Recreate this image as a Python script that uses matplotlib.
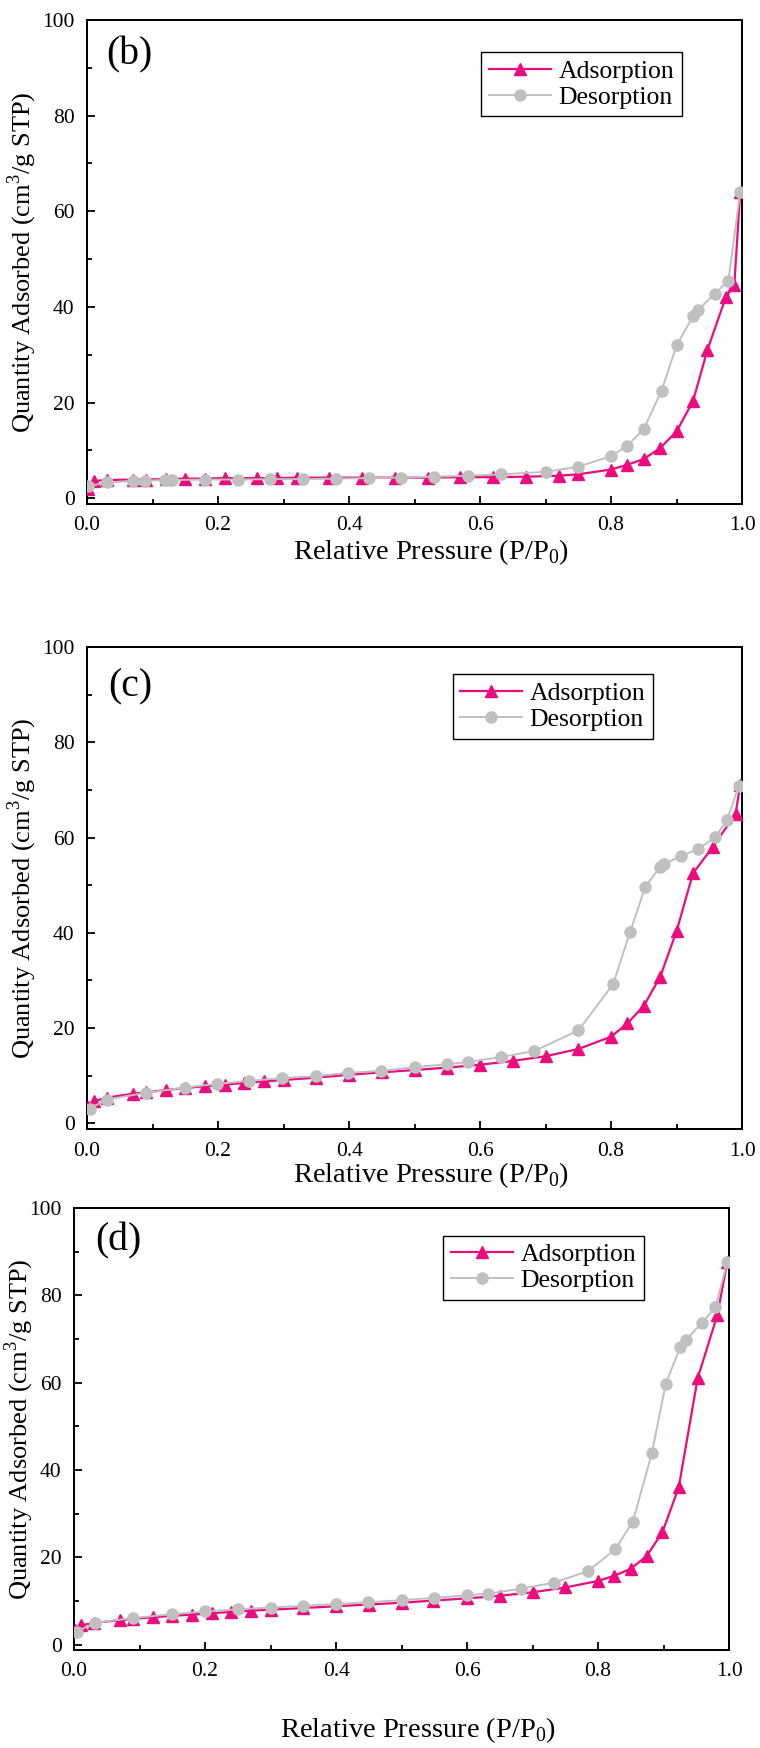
import numpy as np
import matplotlib.pyplot as plt
from matplotlib.ticker import MultipleLocator

plt.rcParams['font.family'] = ['Liberation Serif', 'DejaVu Serif']
plt.rcParams['mathtext.fontset'] = 'custom'
plt.rcParams['mathtext.rm'] = 'Liberation Serif'

# ---------------------------------------------------------------- dados
# painel (b)
ads_b_x = [0.002, 0.01, 0.03, 0.07, 0.09, 0.12, 0.15, 0.18, 0.21, 0.26, 0.29, 0.32, 0.37, 0.42,
           0.47, 0.52, 0.57, 0.62, 0.67, 0.72, 0.75, 0.80, 0.825, 0.85, 0.875, 0.90, 0.925,
           0.947, 0.975, 0.988, 0.997]
ads_b_y = [2.0, 3.6, 3.8, 3.9, 3.9, 4.0, 4.1, 4.1, 4.2, 4.2, 4.2, 4.3, 4.3, 4.3,
           4.3, 4.3, 4.4, 4.4, 4.5, 4.7, 5.0, 6.0, 7.0, 8.2, 10.5, 14.0, 20.3,
           31.0, 42.0, 44.5, 64.0]
des_b_x = [0.997, 0.979, 0.958, 0.933, 0.925, 0.90, 0.877, 0.85, 0.825, 0.80, 0.75, 0.70,
           0.632, 0.581, 0.53, 0.48, 0.43, 0.38, 0.33, 0.28, 0.23, 0.18, 0.129, 0.119,
           0.088, 0.07, 0.03, 0.002]
des_b_y = [64.0, 45.5, 42.7, 39.4, 38.0, 32.0, 22.5, 14.5, 11.0, 8.8, 6.6, 5.5,
           5.0, 4.7, 4.5, 4.3, 4.2, 4.1, 4.0, 4.0, 3.9, 3.9, 3.8, 3.8,
           3.7, 3.6, 3.3, 2.5]

# painel (c)
ads_c_x = [0.002, 0.01, 0.03, 0.07, 0.09, 0.12, 0.15, 0.18, 0.21, 0.24, 0.27, 0.30, 0.35,
           0.40, 0.45, 0.50, 0.55, 0.60, 0.65, 0.70, 0.75, 0.80, 0.825, 0.85, 0.875, 0.90,
           0.925, 0.955, 0.99, 0.997]
ads_c_y = [3.5, 4.6, 5.4, 6.2, 6.5, 7.0, 7.4, 7.8, 8.1, 8.5, 8.8, 9.1, 9.6,
           10.2, 10.7, 11.2, 11.7, 12.3, 13.1, 14.1, 15.6, 18.2, 21.0, 24.7, 30.8, 40.4,
           52.5, 58.0, 65.0, 71.0]
des_c_x = [0.995, 0.977, 0.959, 0.933, 0.906, 0.881, 0.875, 0.852, 0.829, 0.803, 0.75,
           0.683, 0.632, 0.581, 0.55, 0.50, 0.449, 0.398, 0.349, 0.298, 0.248, 0.199,
           0.149, 0.09, 0.03, 0.004]
des_c_y = [70.9, 63.7, 60.1, 57.6, 56.1, 54.4, 53.9, 49.6, 40.2, 29.2, 19.5,
           15.2, 13.9, 12.9, 12.4, 11.8, 11.0, 10.6, 9.9, 9.5, 8.9, 8.3,
           7.5, 6.4, 5.0, 3.1]

# painel (d)
ads_d_x = [0.002, 0.01, 0.03, 0.07, 0.09, 0.12, 0.15, 0.18, 0.21, 0.24, 0.27, 0.30, 0.35,
           0.40, 0.45, 0.50, 0.548, 0.60, 0.65, 0.70, 0.75, 0.80, 0.825, 0.85, 0.874, 0.898,
           0.923, 0.952, 0.982, 0.997]
ads_d_y = [3.3, 4.4, 5.0, 5.6, 5.9, 6.3, 6.6, 6.9, 7.2, 7.5, 7.8, 8.0, 8.4,
           8.8, 9.2, 9.6, 10.1, 10.6, 11.2, 12.0, 13.1, 14.6, 15.8, 17.4, 20.3, 25.7,
           36.0, 61.0, 75.5, 87.5]
des_d_x = [0.997, 0.979, 0.958, 0.934, 0.925, 0.903, 0.882, 0.853, 0.826, 0.784, 0.732,
           0.682, 0.632, 0.60, 0.549, 0.50, 0.449, 0.40, 0.35, 0.30, 0.25, 0.20,
           0.15, 0.09, 0.032, 0.004]
des_d_y = [87.5, 77.2, 73.6, 69.8, 68.1, 59.6, 43.8, 28.2, 21.8, 16.8, 14.2,
           12.8, 11.7, 11.3, 10.7, 10.2, 9.7, 9.3, 8.9, 8.5, 8.1, 7.6,
           7.0, 6.1, 5.0, 3.0]

painel_labels = ['(b)', '(c)', '(d)']

# ---------------------------------------------------------------- figura
cor_ads = '#EC0C7E'
cor_des = '#C0C0C0'

fig = plt.figure(figsize=(7.6, 17.48), dpi=100)

# [left, bottom, width, height] em fracao da figura
posicoes = [[0.1145, 0.7117, 0.862, 0.2769],
            [0.1145, 0.3541, 0.862, 0.2757],
            [0.0974, 0.0561, 0.862, 0.2529]]
leg_anchor = [(0.908, 0.934), (0.864, 0.944), (0.870, 0.937)]
lab_pos = [(0.029, 0.928), (0.032, 0.917), (0.032, 0.926)]
ylab_x = [-0.0735, -0.0735, -0.0575]   # borda direita do rotulo y
xlab_pad = [1, 0, 24]

dados = [(ads_b_x, ads_b_y, des_b_x, des_b_y),
         (ads_c_x, ads_c_y, des_c_x, des_c_y),
         (ads_d_x, ads_d_y, des_d_x, des_d_y)]

for i, (ax_, ay_, dx_, dy_) in enumerate(dados):
    ax = fig.add_axes(posicoes[i])
    ax.plot(ax_, ay_, color=cor_ads, lw=1.6, marker='^', ms=9, label='Adsorption', zorder=3)
    ax.plot(dx_, dy_, color=cor_des, lw=1.4, marker='o', ms=8, label='Desorption', zorder=4)

    ax.set_xlim(0, 1.0)
    ax.set_ylim(-1.2, 100)
    ax.xaxis.set_major_locator(MultipleLocator(0.2))
    ax.xaxis.set_minor_locator(MultipleLocator(0.1))
    ax.yaxis.set_major_locator(MultipleLocator(20))
    ax.yaxis.set_minor_locator(MultipleLocator(10))
    ax.xaxis.set_major_formatter(plt.FormatStrFormatter('%.1f'))
    ax.tick_params(which='both', direction='in', top=False, right=False, labelsize=15.5, width=1.3)
    ax.tick_params(which='major', length=6)
    ax.tick_params(which='minor', length=3.5)
    ax.tick_params(axis='x', which='major', pad=9)
    ax.tick_params(axis='y', which='major', pad=9)
    for s in ax.spines.values():
        s.set_linewidth(1.45)

    ax.set_xlabel('Relative Pressure (P/P$_0$)', fontsize=20.5, x=0.525, labelpad=xlab_pad[i])
    ax.set_ylabel('Quantity Adsorbed (cm$^3$/g STP)', fontsize=19)
    ax.yaxis.set_label_coords(ylab_x[i], 0.5)

    ax.text(lab_pos[i][0], lab_pos[i][1], painel_labels[i], transform=ax.transAxes,
            fontsize=28.5, ha='left', va='center')

    leg = ax.legend(loc='upper right', bbox_to_anchor=leg_anchor[i], fontsize=18.5,
                    frameon=True, fancybox=False, framealpha=1, edgecolor='black',
                    borderpad=0.3, handlelength=2.4, handletextpad=0.3,
                    labelspacing=0.12, borderaxespad=0)
    leg.get_frame().set_linewidth(1.0)

fig.savefig('out.png', dpi=100)
